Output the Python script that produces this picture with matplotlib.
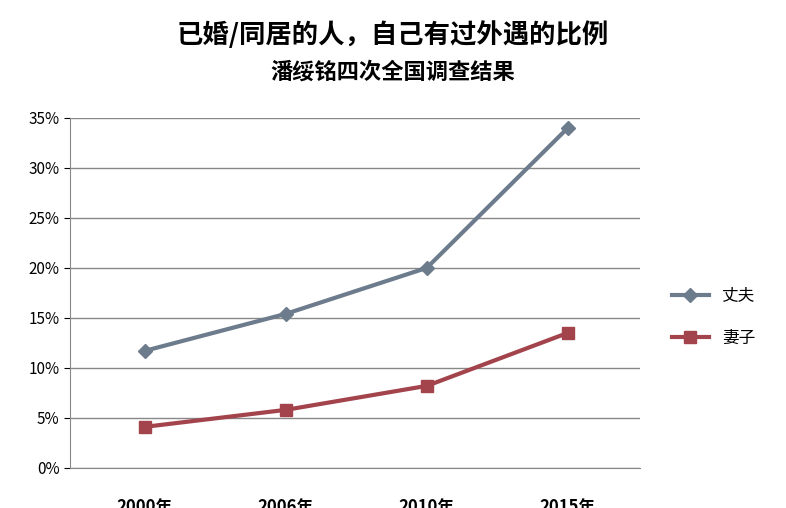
import matplotlib
matplotlib.use("Agg")
import matplotlib.pyplot as plt

plt.rcParams['font.family'] = ['Noto Sans CJK SC', 'DejaVu Sans']

years = ["2000年", "2006年", "2010年", "2015年"]
husband = [11.7, 15.4, 20.0, 34.0]
wife = [4.1, 5.8, 8.2, 13.5]

fig = plt.figure(figsize=(7.86, 5.08), dpi=100)
ax = fig.add_axes([0.089, 0.079, 0.725, 0.689])
x = range(len(years))
ax.plot(x, husband, color="#6d7c8c", lw=3, marker="D", ms=7, label="丈夫")
ax.plot(x, wife, color="#a3434b", lw=3, marker="s", ms=8, label="妻子")
ax.set_xlim(-0.53, 3.51)
ax.set_ylim(0, 35)
ax.set_yticks(range(0, 36, 5))
ax.set_yticklabels([f"{v}%" for v in range(0, 36, 5)], fontsize=11)
ax.set_xticks(list(x))
ax.set_xticklabels(years, fontsize=12, fontweight="bold")
ax.tick_params(axis='x', length=0, pad=22)
ax.tick_params(axis='y', length=4)
ax.grid(axis='y', color="#888888", lw=1)
for s in ["top", "right"]:
    ax.spines[s].set_visible(False)
ax.spines["left"].set_color("#888888")
ax.spines["bottom"].set_color("#888888")
ax.legend(loc="center left", bbox_to_anchor=(1.03, 0.43), frameon=False,
          fontsize=12, handlelength=2.2, labelspacing=1.5)
fig.text(0.5, 0.93, "已婚/同居的人，自己有过外遇的比例", ha="center", va="center",
         fontsize=19, fontweight="bold")
fig.text(0.5, 0.858, "潘绥铭四次全国调查结果", ha="center", va="center",
         fontsize=16, fontweight="bold")
fig.savefig("out.png", dpi=100)
